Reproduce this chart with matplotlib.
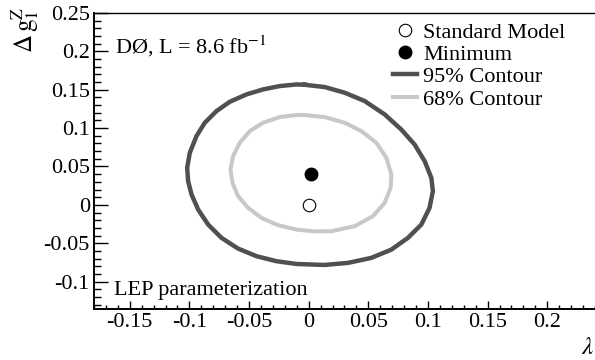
import matplotlib
matplotlib.use('Agg')
import matplotlib.pyplot as plt
from matplotlib.ticker import MultipleLocator

plt.rcParams['font.family'] = ['Liberation Serif', 'DejaVu Serif']
plt.rcParams['mathtext.fontset'] = 'stix'

# contour points (lambda, delta g1Z)
c95_x = [-0.0034, -0.0103, -0.0243, -0.0383, -0.0522, -0.0662, -0.0773, -0.0871,
         -0.0941, -0.0997, -0.1019, -0.1011, -0.0982, -0.0927, -0.0843, -0.0731,
         -0.0592, -0.0438, -0.0271, -0.0103, 0.0050, 0.0134, 0.0329, 0.0525,
         0.0693, 0.0832, 0.0944, 0.1013, 0.1041, 0.1028, 0.0972, 0.0888, 0.0776,
         0.0637, 0.0469, 0.0302, 0.0134]
c95_y = [0.1565, 0.1569, 0.1548, 0.1504, 0.1439, 0.1343, 0.1222, 0.1070,
         0.0896, 0.0678, 0.0483, 0.0309, 0.0134, -0.0061, -0.0257, -0.0430,
         -0.0570, -0.0669, -0.0734, -0.0770, -0.0779, -0.0783, -0.0756, -0.0691,
         -0.0583, -0.0430, -0.0257, -0.0039, 0.0179, 0.0352, 0.0570, 0.0786, 0.0982,
         0.1178, 0.1353, 0.1461, 0.1535]

c68_x = [-0.0034, -0.0103, -0.0243, -0.0383, -0.0494, -0.0578, -0.0634, -0.0656,
         -0.0639, -0.0592, -0.0508, -0.0396, -0.0257, -0.0103, 0.0050, 0.0190,
         0.0385, 0.0539, 0.0637, 0.0687, 0.0693, 0.0651, 0.0567, 0.0441, 0.0302,
         0.0134]
c68_y = [0.1170, 0.1170, 0.1144, 0.1070, 0.0961, 0.0809, 0.0635, 0.0460,
         0.0287, 0.0113, -0.0039, -0.0170, -0.0265, -0.0322, -0.0346, -0.0343,
         -0.0278, -0.0147, 0.0026, 0.0222, 0.0395, 0.0613, 0.0809, 0.0961, 0.1070,
         0.1144]

sm_point = (0.0, 0.0)
min_point = (0.002, 0.040)

fig = plt.figure(figsize=(5.95, 3.6), dpi=100)
ax = fig.add_axes([94/595, 1 - 309/360, 1 - 94/595, (309 - 13)/360])

ax.plot(c95_x + c95_x[:1], c95_y + c95_y[:1], color='#505050', lw=3.2,
        solid_joinstyle='round', label='95% Contour')
ax.plot(c68_x + c68_x[:1], c68_y + c68_y[:1], color='#c8c8c8', lw=2.9,
        solid_joinstyle='round', label='68% Contour')
ax.plot([sm_point[0]], [sm_point[1]], 'o', mfc='white', mec='black', mew=0.8,
        ms=9, ls='none', label='Standard Model')
ax.plot([min_point[0]], [min_point[1]], 'o', color='black', ms=9, ls='none',
        label='Minimum')

ax.set_xlim(-0.18, 0.24)
ax.set_ylim(-0.1357, 0.25)

fmt = lambda v, p: ('%g' % round(v, 3)) if abs(v) > 1e-9 else '0'
ax.xaxis.set_major_locator(MultipleLocator(0.05))
ax.xaxis.set_minor_locator(MultipleLocator(0.01))
ax.yaxis.set_major_locator(MultipleLocator(0.05))
ax.yaxis.set_minor_locator(MultipleLocator(0.01))
ax.xaxis.set_major_formatter(fmt)
ax.yaxis.set_major_formatter(fmt)

ax.tick_params(axis='both', which='both', direction='in', top=False, right=False,
               labelsize=16, width=1)
ax.tick_params(axis='y', which='major', length=10, pad=3)
ax.tick_params(axis='y', which='minor', length=5)
ax.tick_params(axis='x', which='major', length=6, pad=3)
ax.tick_params(axis='x', which='minor', length=3)
ax.spines['right'].set_visible(False)
ax.spines['left'].set_linewidth(1.4)
ax.spines['bottom'].set_linewidth(1.4)
ax.spines['top'].set_linewidth(1.0)

h, l = ax.get_legend_handles_labels()
order = [2, 3, 0, 1]
ax.legend([h[i] for i in order], [l[i] for i in order], loc='upper left',
          bbox_to_anchor=((393 - 94) / 501, (309 - 22) / 296), frameon=False,
          fontsize=16, handlelength=1.1, handletextpad=0.27, labelspacing=0.08,
          borderpad=0, borderaxespad=0)

fig.text(115/595, 1 - 46/360, r'DØ, L = 8.6 fb$^{-1}$', fontsize=16,
         ha='left', va='center')
fig.text(114/595, 1 - 290/360, 'LEP parameterization', fontsize=16,
         ha='left', va='center')

fig.text(25/595, 1 - 7/360, r'$\Delta\,\mathrm{g}_{1}^{\mathrm{Z}}$', rotation=90,
         ha='center', va='top', fontsize=18)
fig.text(588/595, 1 - 348/360, r'$\lambda$', ha='center', va='center', fontsize=18)

fig.savefig('out.png', dpi=100)
